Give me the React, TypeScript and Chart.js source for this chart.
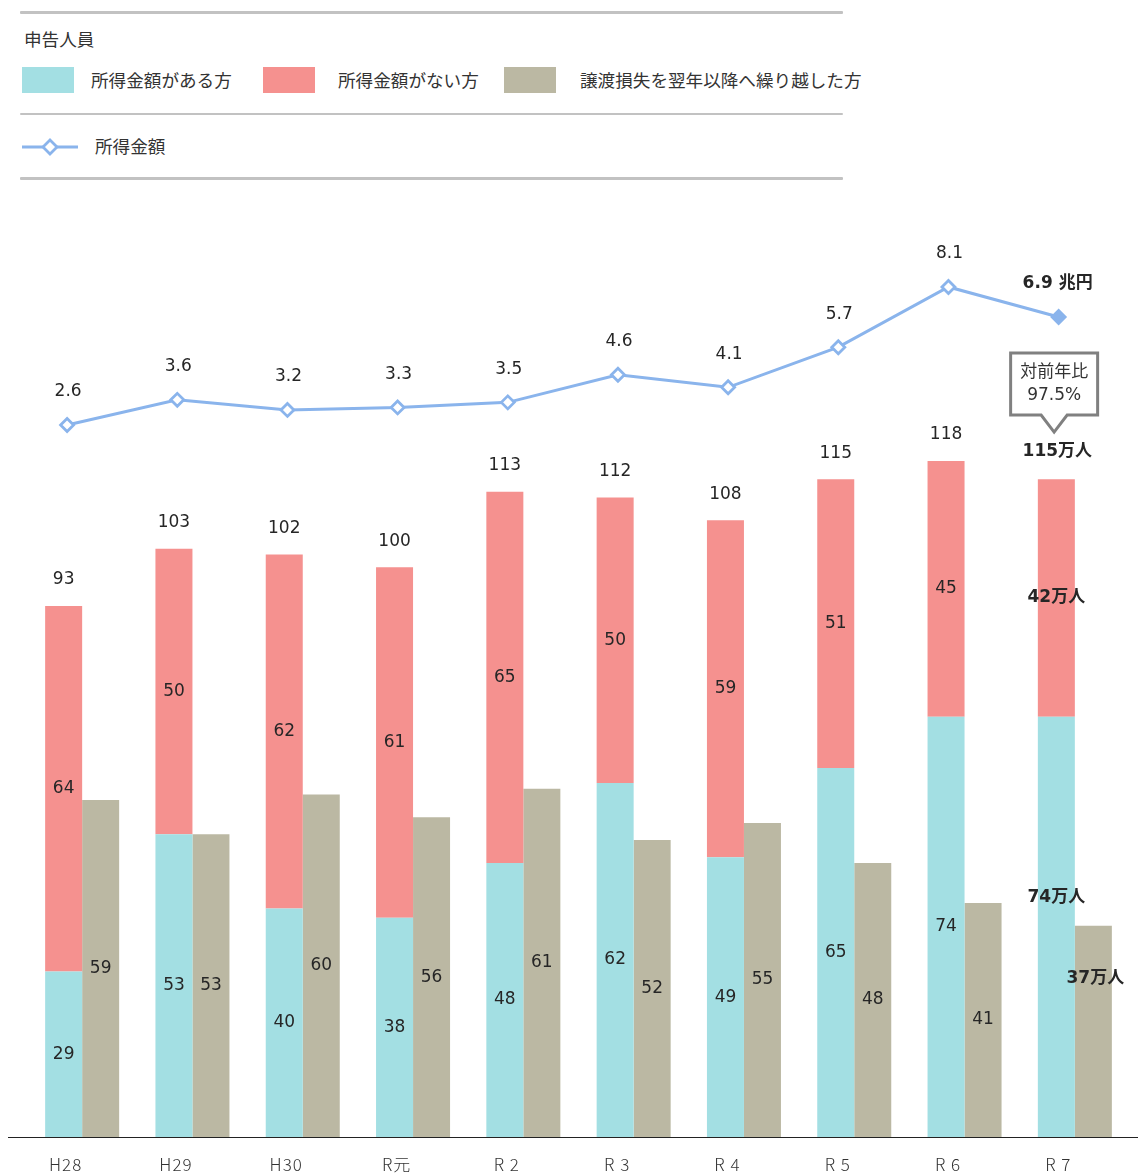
import React, { useEffect, useRef } from 'react';
import { Chart, registerables } from 'chart.js';

Chart.register(...registerables);

// ---- data (万人 / 兆円) ----
const categories = ['H28', 'H29', 'H30', 'R元', 'R 2', 'R 3', 'R 4', 'R 5', 'R 6', 'R 7'];
const withIncome = [29, 53, 40, 38.4, 48, 62, 49, 64.6, 73.6, 73.6];
const withoutIncome = [64, 50, 62, 61.4, 65, 50, 59, 50.6, 44.8, 41.6];
const carriedLoss = [59, 53, 60, 56, 61, 52, 55, 48, 41, 37];
const totals = [93, 103, 102, 100, 113, 112, 108, 115, 118, 115];
const incomeAmount = [2.6, 3.6, 3.2, 3.3, 3.5, 4.6, 4.1, 5.7, 8.1, 6.9];
const yoyText = ['対前年比', '97.5%'];

const TEAL = '#A3DFE3';
const PINK = '#F5918F';
const GRAY = '#BBB8A3';
const BLUE = '#8AB4EC';
const TXT = '#262626';
const NUM = '"DejaVu Sans", "Noto Sans CJK JP", sans-serif';
const JP = '"Noto Sans CJK JP", sans-serif';
const PAD = { left: 27, right: 8, top: 40, bottom: 36 };

const barLabelPlugin = {
  id: 'barLabels',
  afterDatasetsDraw(chart: any) {
    const ctx = chart.ctx;
    const mT = chart.getDatasetMeta(0);
    const mP = chart.getDatasetMeta(1);
    const mG = chart.getDatasetMeta(2);
    const last = categories.length - 1;
    ctx.save();
    ctx.textAlign = 'center';
    ctx.textBaseline = 'middle';
    for (let i = 0; i < categories.length; i++) {
      const t = mT.data[i];
      const p = mP.data[i];
      const g = mG.data[i];
      const isLast = i === last;
      const suf = isLast ? '万人' : '';
      ctx.fillStyle = TXT;
      ctx.font = (isLast ? 'bold ' : '') + '17px ' + NUM;
      const ty = isLast ? t.y + (t.base - t.y) * 0.43 : (t.y + t.base) / 2;
      ctx.fillText(Math.round(withIncome[i]) + suf, t.x, ty);
      ctx.fillText(Math.round(withoutIncome[i]) + suf, p.x, (p.y + p.base) / 2);
      const gy = isLast ? g.y + (g.base - g.y) * 0.25 : (g.y + g.base) / 2;
      ctx.fillText(Math.round(carriedLoss[i]) + suf, g.x + (isLast ? 2 : 0), gy);
      ctx.fillText(totals[i] + suf, p.x + (isLast ? 1 : 0), p.y - (isLast ? 28 : 26));
      ctx.font = '300 17px ' + JP;
      ctx.fillStyle = '#333';
      try {
        (ctx as any).letterSpacing = '1px';
      } catch (e) {}
      ctx.fillText(categories[i], t.x + 2, chart.chartArea.bottom + 28);
      try {
        (ctx as any).letterSpacing = '0px';
      } catch (e) {}
    }
    ctx.strokeStyle = '#222';
    ctx.lineWidth = 1.2;
    ctx.beginPath();
    ctx.moveTo(8, chart.chartArea.bottom + 0.5);
    ctx.lineTo(chart.width, chart.chartArea.bottom + 0.5);
    ctx.stroke();
    ctx.restore();
  },
};

const lineLabelPlugin = {
  id: 'lineLabels',
  afterDatasetsDraw(chart: any) {
    const ctx = chart.ctx;
    const mL = chart.getDatasetMeta(0);
    const last = incomeAmount.length - 1;
    ctx.save();
    ctx.textAlign = 'center';
    ctx.textBaseline = 'middle';
    ctx.fillStyle = TXT;
    for (let i = 0; i < incomeAmount.length; i++) {
      const l = mL.data[i];
      if (i === last) {
        ctx.font = 'bold 17px ' + NUM;
        ctx.fillText(incomeAmount[i].toFixed(1) + ' 兆円', l.x - 1, l.y - 33);
      } else {
        ctx.font = '17px ' + NUM;
        ctx.fillText(incomeAmount[i].toFixed(1), l.x + 1, l.y - 33);
      }
    }
    const ll = mL.data[last];
    const cx = ll.x - 4.5;
    const left = cx - 43.5;
    const right = cx + 43.5;
    const top = ll.y + 36;
    const bottom = ll.y + 98;
    const tipY = ll.y + 115;
    ctx.beginPath();
    ctx.moveTo(left, top);
    ctx.lineTo(right, top);
    ctx.lineTo(right, bottom);
    ctx.lineTo(cx + 13, bottom);
    ctx.lineTo(cx, tipY);
    ctx.lineTo(cx - 13, bottom);
    ctx.lineTo(left, bottom);
    ctx.closePath();
    ctx.fillStyle = '#fff';
    ctx.fill();
    ctx.strokeStyle = '#808080';
    ctx.lineWidth = 3;
    ctx.lineJoin = 'miter';
    ctx.stroke();
    ctx.fillStyle = '#333';
    ctx.font = '17px ' + NUM;
    ctx.fillText(yoyText[0], cx, top + 20);
    ctx.fillText(yoyText[1], cx, top + 43);
    ctx.restore();
  },
};

function LegendLine({ top, h }: { top: number; h: number }) {
  return (
    <div style={{ position: 'absolute', left: 20, top, width: 823, height: h, background: '#C2C2C2', borderRadius: 1 }} />
  );
}

function Box({ left, color }: { left: number; color: string }) {
  return <div style={{ position: 'absolute', left, top: 67, width: 52, height: 26, background: color }} />;
}

function Txt({ left, top, children }: { left: number; top: number; children: React.ReactNode }) {
  return (
    <div
      style={{
        position: 'absolute',
        left,
        top,
        fontFamily: JP,
        fontSize: 17.6,
        lineHeight: '24px',
        color: '#333',
        whiteSpace: 'nowrap',
      }}
    >
      {children}
    </div>
  );
}

export default function App() {
  const barRef = useRef<HTMLCanvasElement | null>(null);
  const lineRef = useRef<HTMLCanvasElement | null>(null);

  useEffect(() => {
    if (!barRef.current || !lineRef.current) return;
    const barCommon = { categoryPercentage: 0.671, barPercentage: 1 };
    const barChart = new Chart(barRef.current, {
      type: 'bar',
      data: {
        labels: categories,
        datasets: [
          { label: '所得金額がある方', data: withIncome, backgroundColor: TEAL, stack: 'a', ...barCommon },
          { label: '所得金額がない方', data: withoutIncome, backgroundColor: PINK, stack: 'a', ...barCommon },
          { label: '譲渡損失を翌年以降へ繰り越した方', data: carriedLoss, backgroundColor: GRAY, stack: 'b', ...barCommon },
        ],
      },
      options: {
        animation: false,
        responsive: false,
        maintainAspectRatio: false,
        layout: { padding: PAD },
        plugins: { legend: { display: false }, tooltip: { enabled: false } },
        scales: {
          x: { display: false, stacked: true },
          y: { display: false, stacked: true, min: 0, max: 158.84 },
        },
      } as any,
      plugins: [barLabelPlugin],
    });

    const lineChart = new Chart(lineRef.current, {
      type: 'line',
      data: {
        datasets: [
          {
            label: '所得金額',
            data: incomeAmount.map((v, i) => ({ x: i, y: v })),
            borderColor: BLUE,
            borderWidth: 3,
            pointStyle: 'rectRot',
            pointRadius: 6.5,
            pointBorderWidth: 2.8,
            pointBorderColor: BLUE,
            pointBackgroundColor: incomeAmount.map((_, i) => (i === incomeAmount.length - 1 ? BLUE : '#fff')),
            tension: 0,
          },
        ],
      },
      options: {
        animation: false,
        responsive: false,
        maintainAspectRatio: false,
        layout: { padding: PAD },
        plugins: { legend: { display: false }, tooltip: { enabled: false } },
        scales: {
          x: { type: 'linear', display: false, min: -0.364, max: 9.636 },
          y: { display: false, min: -25.78, max: 10.37 },
        },
      } as any,
      plugins: [lineLabelPlugin],
    });
    return () => {
      barChart.destroy();
      lineChart.destroy();
    };
  }, []);

  const canvasStyle: React.CSSProperties = { position: 'absolute', left: 0, top: 190, width: 1138, height: 983 };

  return (
    <div style={{ position: 'absolute', left: 0, top: 0, width: 1138, height: 1173, background: '#fff' }}>
      <LegendLine top={11} h={3} />
      <Txt left={24} top={27}>申告人員</Txt>
      <Box left={22} color={TEAL} />
      <Box left={263} color={PINK} />
      <Box left={504} color={GRAY} />
      <Txt left={91} top={68}>所得金額がある方</Txt>
      <Txt left={338} top={68}>所得金額がない方</Txt>
      <Txt left={580} top={68}>譲渡損失を翌年以降へ繰り越した方</Txt>
      <LegendLine top={113} h={2} />
      <svg style={{ position: 'absolute', left: 20, top: 136 }} width={62} height={22}>
        <line x1={2} y1={11} x2={58} y2={11} stroke={BLUE} strokeWidth={3} />
        <polygon points="30,4 37,11 30,18 23,11" fill="#fff" stroke={BLUE} strokeWidth={2.8} />
      </svg>
      <Txt left={95} top={134}>所得金額</Txt>
      <LegendLine top={177} h={3} />
      <canvas ref={barRef} width={1138} height={983} style={canvasStyle} />
      <canvas ref={lineRef} width={1138} height={983} style={canvasStyle} />
    </div>
  );
}
